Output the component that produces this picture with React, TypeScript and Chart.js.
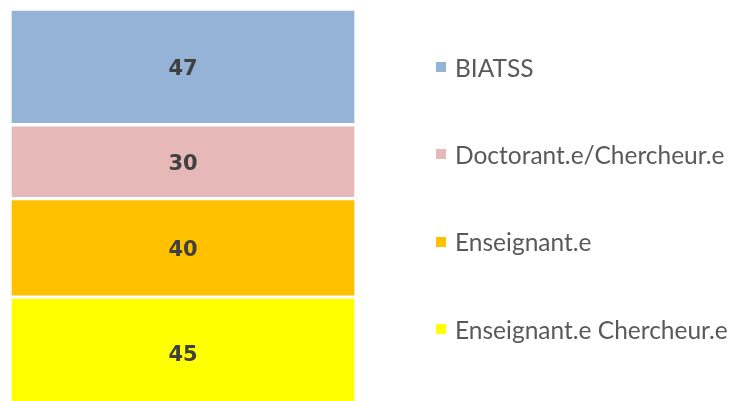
import React, { useEffect, useRef } from "react";
import { Chart, registerables } from "chart.js";

Chart.register(...registerables);

const categories: string[] = ["Total"];
const seriesNames: string[] = [
  "Enseignant.e Chercheur.e",
  "Enseignant.e",
  "Doctorant.e/Chercheur.e",
  "BIATSS",
];
const seriesValues: number[][] = [[45], [40], [30], [47]];
const seriesColors: string[] = ["#FFFF00", "#FFC000", "#E6B9B8", "#95B3D7"];
const legendOrder: number[] = [3, 2, 1, 0];
const legendTops: number[] = [67, 154, 241.5, 329];

const valueLabels = {
  id: "valueLabels",
  afterDatasetsDraw(chart: any) {
    const ctx = chart.ctx;
    ctx.save();
    ctx.font = "bold 21px 'DejaVu Sans'";
    ctx.fillStyle = "#404040";
    ctx.textAlign = "center";
    ctx.textBaseline = "middle";
    chart.data.datasets.forEach((ds: any, i: number) => {
      const meta = chart.getDatasetMeta(i);
      meta.data.forEach((el: any, j: number) => {
        const cy = (el.y + el.base) / 2;
        ctx.fillText(String(ds.data[j]), el.x, cy + 2.5);
      });
    });
    ctx.restore();
  },
};

export default function App() {
  const ref = useRef<HTMLCanvasElement>(null);
  useEffect(() => {
    if (!ref.current) return;
    const chart = new Chart(ref.current, {
      type: "bar",
      data: {
        labels: categories,
        datasets: seriesNames.map((name, i) => ({
          label: name,
          data: seriesValues[i],
          backgroundColor: seriesColors[i],
          borderColor: "#FFFFFF",
          borderWidth: 2,
          borderSkipped: false,
          barPercentage: 1,
          categoryPercentage: 1,
        })),
      },
      options: {
        responsive: false,
        animation: false,
        devicePixelRatio: 1,
        layout: { padding: { left: 10, right: 379, top: 9, bottom: 0 } },
        plugins: { legend: { display: false }, tooltip: { enabled: false } },
        scales: {
          x: { stacked: true, display: false },
          y: { stacked: true, display: false, min: 0, max: 162 },
        },
      },
      plugins: [valueLabels],
    });
    return () => chart.destroy();
  }, []);

  return (
    <div style={{ position: "fixed", left: 0, top: 0, width: 735, height: 408, background: "#fff" }}>
      <canvas ref={ref} width={735} height={408} style={{ display: "block" }} />
      {legendOrder.map((idx, k) => (
        <div
          key={idx}
          style={{
            position: "absolute",
            left: 436,
            top: legendTops[k] - 15,
            height: 30,
            display: "flex",
            alignItems: "center",
            whiteSpace: "nowrap",
            fontFamily: "Lato",
            fontSize: 24.5,
            color: "#595959",
          }}
        >
          <span style={{ display: "inline-block", width: 10, height: 10, background: seriesColors[idx], marginRight: 9 }} />
          <span>{seriesNames[idx]}</span>
        </div>
      ))}
    </div>
  );
}
